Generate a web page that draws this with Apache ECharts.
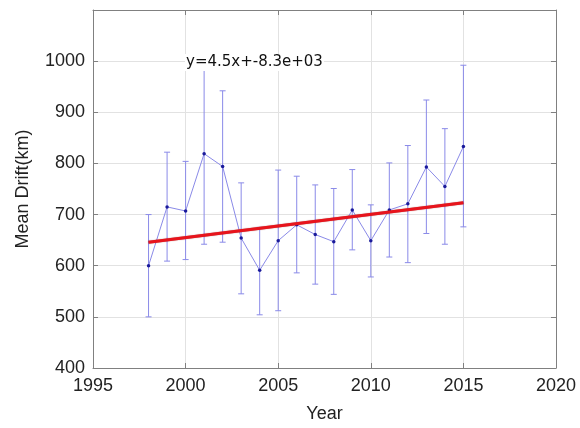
<!DOCTYPE html>
<html>
<head>
<meta charset="utf-8">
<script src="https://cdn.jsdelivr.net/npm/echarts@6/dist/echarts.min.js"></script>
<style>html,body{margin:0;padding:0;background:#fff;}#c{width:580px;height:428px;}</style>
</head>
<body>
<div id="c"></div>
<script>
var years = [1998,1999,2000,2001,2002,2003,2004,2005,2006,2007,2008,2009,2010,2011,2012,2013,2014,2015];
var means = [600,715,707,819,794,654,591,649,680,661,647,709,649,709,721,793,755,833];
var lower = [500,609,612,642,646,545,504,512,586,564,544,631,578,617,606,663,642,676];
var upper = [700,822,804,996,942,762,675,787,775,758,751,788,719,801,835,924,868,992];
var fitYears = [1998, 2015];
var fitValues = [646, 723];
var xTicks = [1995, 2000, 2005, 2010, 2015, 2020];
var yTicks = [400, 500, 600, 700, 800, 900, 1000];
var equation = 'y=4.5x+-8.3e+03';

var font = 'Liberation Sans, Arial, Helvetica, sans-serif';
var chart = echarts.init(document.getElementById('c'), null, {renderer: 'canvas'});

var errData = years.map(function (y, i) { return [y, lower[i], upper[i]]; });
var meanData = years.map(function (y, i) { return [y, means[i]]; });
var fitData = fitYears.map(function (y, i) { return [y, fitValues[i]]; });

var axisLineStyle = {show: true, lineStyle: {color: '#808080', width: 1}};
var tickStyle = {show: true, inside: true, length: 5, lineStyle: {color: '#808080'}};

chart.setOption({
  animation: false,
  backgroundColor: '#ffffff',
  grid: {left: 93, right: 24, top: 10, bottom: 57, containLabel: false},
  xAxis: [{
    type: 'value', min: 1995, max: 2020, interval: 5,
    name: 'Year', nameLocation: 'middle', nameGap: 37,
    nameTextStyle: {fontFamily: font, fontSize: 18, color: '#222'},
    axisLine: axisLineStyle, axisTick: tickStyle,
    axisLabel: {fontFamily: font, fontSize: 18, color: '#222', margin: 9,
      formatter: function (v) { return xTicks.indexOf(v) >= 0 ? String(v) : ''; }},
    splitLine: {show: true, lineStyle: {color: '#e2e2e2', width: 1}}
  }, {
    type: 'value', min: 1995, max: 2020, interval: 5, position: 'top',
    axisLine: axisLineStyle, axisTick: tickStyle, axisLabel: {show: false}, splitLine: {show: false}
  }],
  yAxis: [{
    type: 'value', min: 400, max: 1100, interval: 100,
    name: 'Mean Drift(km)', nameLocation: 'middle', nameGap: 61,
    nameTextStyle: {fontFamily: font, fontSize: 18, color: '#222'},
    axisLine: axisLineStyle, axisTick: tickStyle,
    axisLabel: {fontFamily: font, fontSize: 18, color: '#222', margin: 8,
      formatter: function (v) { return yTicks.indexOf(v) >= 0 ? String(v) : ''; }},
    splitLine: {show: true, lineStyle: {color: '#e2e2e2', width: 1}}
  }, {
    type: 'value', min: 400, max: 1100, interval: 100, position: 'right',
    axisLine: axisLineStyle, axisTick: tickStyle, axisLabel: {show: false}, splitLine: {show: false}
  }],
  series: [{
    type: 'custom',
    data: errData,
    z: 2,
    renderItem: function (params, api) {
      var x = api.value(0);
      var lo = api.coord([x, api.value(1)]);
      var hi = api.coord([x, api.value(2)]);
      var cw = 3;
      var st = {stroke: '#8a8ae8', lineWidth: 1};
      return {type: 'group', children: [
        {type: 'line', shape: {x1: lo[0], y1: lo[1], x2: hi[0], y2: hi[1]}, style: st},
        {type: 'line', shape: {x1: lo[0] - cw, y1: lo[1], x2: lo[0] + cw, y2: lo[1]}, style: st},
        {type: 'line', shape: {x1: hi[0] - cw, y1: hi[1], x2: hi[0] + cw, y2: hi[1]}, style: st}
      ]};
    }
  }, {
    type: 'line',
    data: meanData,
    z: 3,
    lineStyle: {color: '#8a8ae8', width: 1},
    symbol: 'circle', symbolSize: 3.5,
    itemStyle: {color: '#1a1a9a'}
  }, {
    type: 'line',
    data: fitData,
    z: 4,
    symbol: 'none',
    lineStyle: {color: '#e8141c', width: 3, shadowColor: 'rgba(120,0,0,0.6)', shadowBlur: 1}
  }],
  graphic: [{
    type: 'text', left: 185, top: 54, z: 10,
    style: {text: equation, fontFamily: 'DejaVu Sans, sans-serif', fontSize: 15, fill: '#111',
      backgroundColor: '#fff', padding: [1, 1]}
  }]
});
</script>
</body>
</html>
